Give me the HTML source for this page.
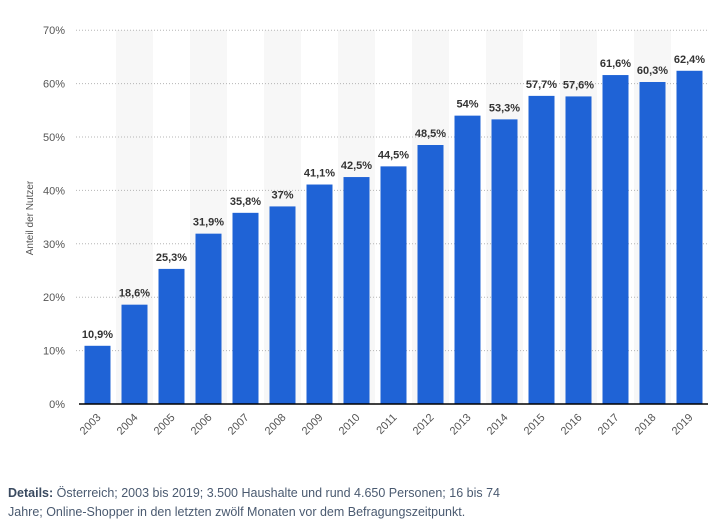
<!DOCTYPE html>
<html><head><meta charset="utf-8"><style>
body{margin:0;background:#fff;font-family:"Liberation Sans",sans-serif;}
#wrap{position:relative;width:720px;height:523px;overflow:hidden;}
.details{position:absolute;left:8px;top:484px;font-size:12.5px;color:#4a5a70;line-height:19px;width:520px;}
.details b{color:#3a4a60;}
</style></head><body>
<div id="wrap">
<svg id="chart" width="720" height="475" style="position:absolute;left:0;top:0"></svg>
<div class="details"><b>Details:</b> Österreich; 2003 bis 2019; 3.500 Haushalte und rund 4.650 Personen; 16 bis 74 Jahre; Online-Shopper in den letzten zwölf Monaten vor dem Befragungszeitpunkt.</div>
</div>
<script>
const categories=["2003","2004","2005","2006","2007","2008","2009","2010","2011","2012","2013","2014","2015","2016","2017","2018","2019"];
const values=[10.9,18.6,25.3,31.9,35.8,37,41.1,42.5,44.5,48.5,54,53.3,57.7,57.6,61.6,60.3,62.4];
const valueLabels=["10,9%","18,6%","25,3%","31,9%","35,8%","37%","41,1%","42,5%","44,5%","48,5%","54%","53,3%","57,7%","57,6%","61,6%","60,3%","62,4%"];
const yTicks=[0,10,20,30,40,50,60,70];
const svg=document.getElementById('chart');
const NS="http://www.w3.org/2000/svg";
const left=79,colW=37,barW=26,base=404,pxPer=5.34;
const y=v=>base-v*pxPer;
const x=i=>left+i*colW;
function mk(t,a){const e=document.createElementNS(NS,t);for(const k in a)e.setAttribute(k,a[k]);svg.appendChild(e);return e;}
categories.forEach((c,i)=>{if(i%2===1){const r=mk('rect',{x:x(i),y:y(70),width:colW,height:base-y(70),fill:'#f7f7f7'});

}});
yTicks.forEach(t=>{
 if(t>0){const l=mk('line',{x1:left-3,x2:708,y1:y(t),y2:y(t),stroke:'#b5b5b5','stroke-dasharray':'1,2'});
 
 }
 const tx=mk('text',{x:65,y:y(t)+4,'text-anchor':'end','font-size':'11',fill:'#555'});tx.textContent=t+'%';
 
 
});
const yt=mk('text',{x:33,y:218,'text-anchor':'middle','font-size':'10',fill:'#555',transform:'rotate(-90 33 218)'});yt.textContent='Anteil der Nutzer';


categories.forEach((c,i)=>{
 const bx=x(i)+(colW-barW)/2;
 const b=mk('rect',{x:bx,y:y(values[i]),width:barW,height:base-y(values[i]),fill:'#1f63d6'});
 
 
 const lb=mk('text',{x:bx+barW/2,y:y(values[i])-8,'text-anchor':'middle','font-size':'11','font-weight':'bold',fill:'#333'});lb.textContent=valueLabels[i];
 
 
 const cx=bx+barW/2+4,cy=base+14;
 const xl=mk('text',{x:cx,y:cy,'text-anchor':'end','font-size':'11',fill:'#555',transform:`rotate(-45 ${cx} ${cy})`});xl.textContent=c;
 
 
});
const ax=mk('line',{x1:left,x2:708,y1:base,y2:base,stroke:'#000','stroke-width':1.5});


</script>
</body></html>
